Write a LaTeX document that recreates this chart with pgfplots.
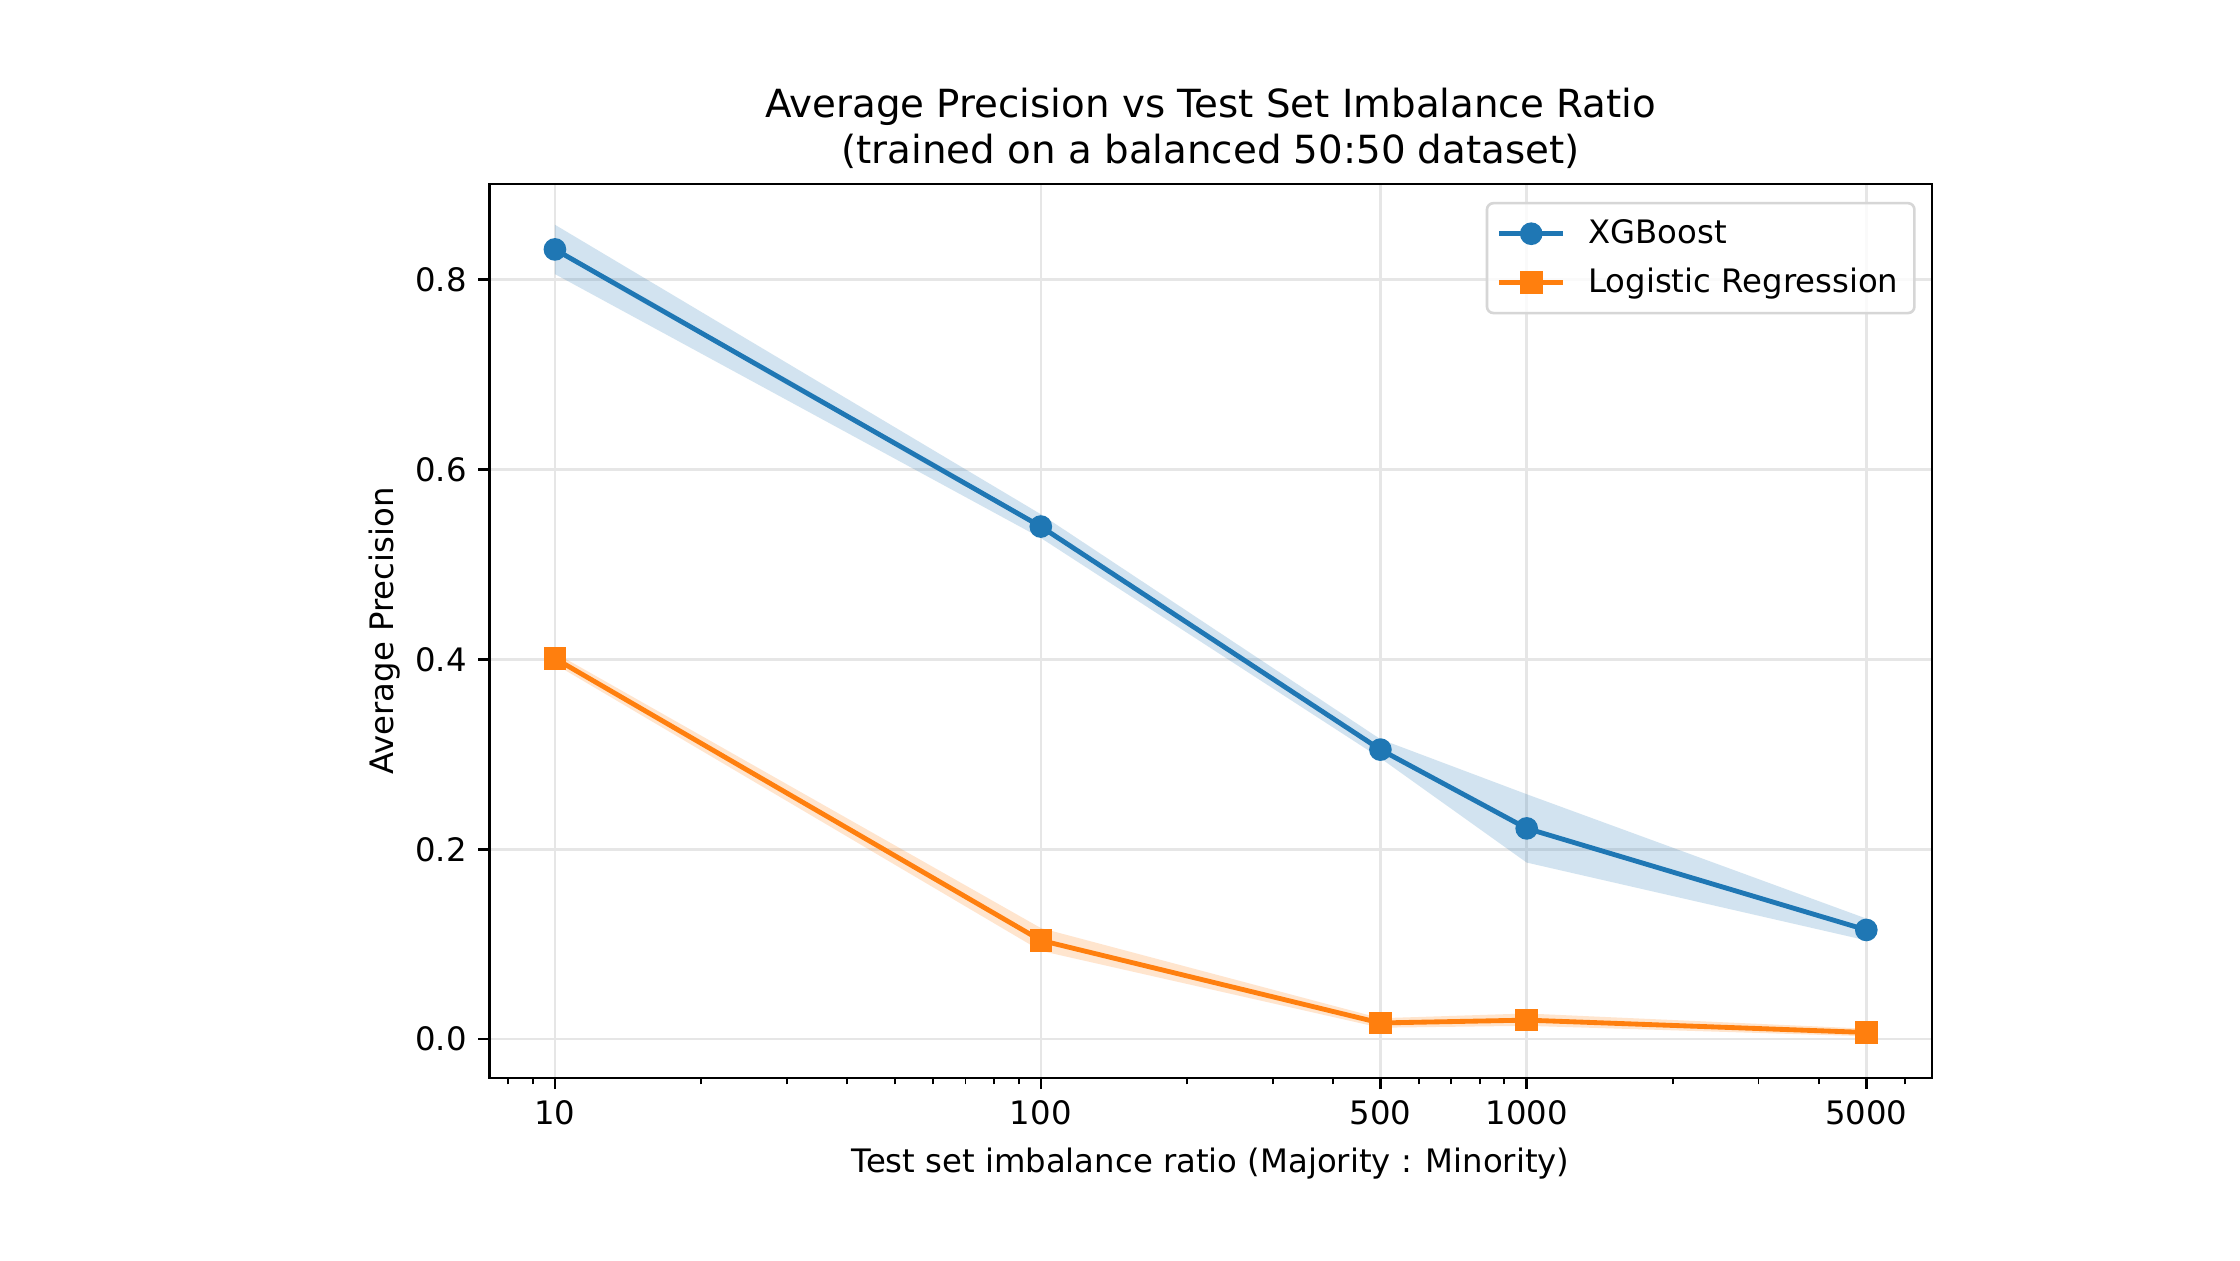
\documentclass[border=0pt]{standalone}
\usepackage{fontspec}
\setmainfont{DejaVu Sans}
\usepackage{pgfplots}
\pgfplotsset{compat=1.18}
\definecolor{tabblue}{HTML}{1F77B4}
\definecolor{taborange}{HTML}{FF7F0E}
\definecolor{gridgray}{HTML}{E6E6E6}
\definecolor{legframe}{HTML}{D6D6D6}
\begin{document}
\begin{tikzpicture}
\fill[white] (0,0) rectangle (693.5pt,390.1pt);
\begin{axis}[
  at={(151.5pt,56.4pt)}, anchor=south west,
  scale only axis, width=446.6pt, height=276.7pt,
  xmode=log, log basis x=10,
  xmin=7.33, xmax=6823, ymin=-0.0408, ymax=0.9008,
  xtick={10,100,500,1000,5000},
  xticklabels={10,100,500,1000,5000},
  minor xtick={8,9,20,30,40,50,60,70,80,90,200,300,400,600,700,800,900,2000,3000,4000,6000},
  ytick={0,0.2,0.4,0.6,0.8},
  yticklabels={0.0,0.2,0.4,0.6,0.8},
  xtick pos=left, ytick pos=left,
  tick align=outside, major tick length=3.5pt, minor tick length=2pt,
  every tick/.style={black, line width=0.8pt},
  every minor tick/.style={black, line width=0.6pt},
  xmajorgrids, ymajorgrids,
  major grid style={gridgray, line width=0.8pt},
  axis line style={line width=0.8pt, black},
  /pgf/number format/assume math mode=true,
  tick label style={font=\fontsize{10}{12}\selectfont},
  title={Average Precision vs Test Set Imbalance Ratio\\(trained on a balanced 50:50 dataset)},
  title style={font=\fontsize{12}{14.4}\selectfont, align=center, at={(axis description cs:0.5,1)}, anchor=south, yshift=-1.5pt, inner sep=0pt},
  xlabel={Test set imbalance ratio (Majority : Minority)},
  xlabel style={font=\fontsize{10}{12}\selectfont, at={(axis description cs:0.5,-0.0958)}, anchor=center},
  ylabel={Average Precision},
  ylabel style={font=\fontsize{10}{12}\selectfont, at={(axis description cs:-0.0725,0.5)}, anchor=center, rotate=0},
  legend style={at={(rel axis cs:1,1)}, anchor=north east, xshift=-5pt, yshift=-5.5pt,
    draw=legframe, line width=0.8pt, rounded corners=2pt, fill=white, fill opacity=0.8, text opacity=1,
    font=\fontsize{10}{12}\selectfont, inner xsep=3pt, inner ysep=3pt, row sep=2pt,
    /tikz/every odd column/.style={column sep=5pt}},
  legend cell align=left,
  legend image code/.code={\draw[mark repeat=2,mark phase=2,opacity=1,fill opacity=1,draw opacity=1] plot coordinates {(0cm,0cm) (0.35cm,0cm) (0.7cm,0cm)};},
]
\addplot[fill=tabblue, fill opacity=0.2, draw=none, forget plot] coordinates {
 (10,0.858) (100,0.553) (500,0.316) (1000,0.258) (5000,0.127)
 (5000,0.104) (1000,0.186) (500,0.296) (100,0.528) (10,0.806)} -- cycle;
\addplot[fill=taborange, fill opacity=0.2, draw=none, forget plot] coordinates {
 (10,0.407) (100,0.117) (500,0.022) (1000,0.027) (5000,0.011)
 (5000,0.003) (1000,0.014) (500,0.012) (100,0.093) (10,0.395)} -- cycle;
\addplot[tabblue, line width=1.5pt, mark=*, mark size=3pt, mark options={solid, fill=tabblue, draw=tabblue, line width=1pt, opacity=1, fill opacity=1}] coordinates {
 (10,0.832) (100,0.540) (500,0.305) (1000,0.222) (5000,0.115)};
\addlegendentry{XGBoost}
\addplot[taborange, line width=1.5pt, mark=square*, mark size=3pt, mark options={solid, fill=taborange, draw=taborange, line width=1pt, opacity=1, fill opacity=1}] coordinates {
 (10,0.401) (100,0.104) (500,0.017) (1000,0.020) (5000,0.007)};
\addlegendentry{Logistic Regression}
\end{axis}
\end{tikzpicture}
\end{document}
